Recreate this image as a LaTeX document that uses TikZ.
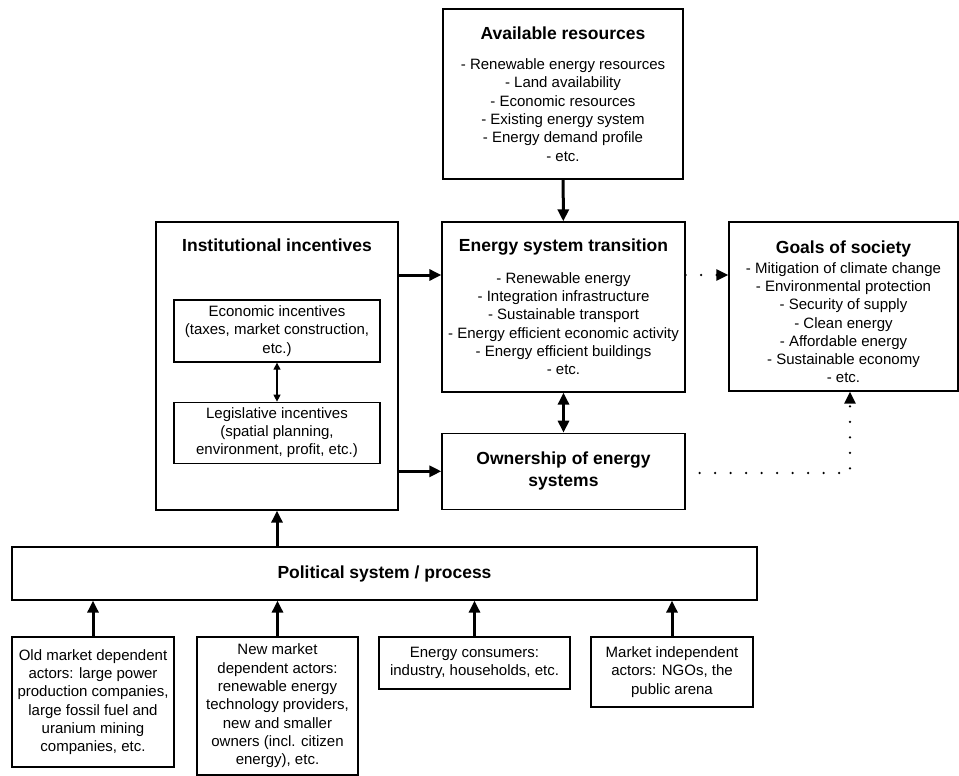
\documentclass[tikz,border=0pt]{standalone}
\usepackage{fontspec}
\setmainfont{Liberation Sans}
\usepackage{tikz}
\usetikzlibrary{shapes, arrows, arrows.meta, calc, positioning}

\newcommand{\bodyfont}{\fontsize{15}{18.3}\selectfont}
\newcommand{\headfont}{\fontsize{17.5}{22}\selectfont\bfseries}

\begin{document}
\begin{tikzpicture}[x=1pt, y=-1pt, >={Triangle[length=12pt, width=11pt]}, node distance=40pt]
	\tikzstyle{block} = [draw, line width=1.3pt, align=center, inner sep=0pt, font=\bodyfont]
	\tikzstyle{flow} = [->, line width=3pt]
	\tikzstyle{link} = [->, line width=2.6pt, line cap=round, dash pattern=on 0pt off 15.5pt]

	\useasboundingbox (0,0) rectangle (959,776);

	% upper part
	\begin{scope}
		\path
			node[block, minimum width=240pt, minimum height=170pt] (res) at (563,94)
				{{\headfont Available resources}\\[12pt]
				- Renewable energy resources\\ - Land availability\\ - Economic resources\\
				- Existing energy system\\ - Energy demand profile\\ - etc.}
			node[block, minimum width=243pt, minimum height=170pt] (trans) at (563.5,307)
				{{\headfont Energy system transition}\\[13pt]
				- Renewable energy\\ - Integration infrastructure\\ - Sustainable transport\\
				- Energy efficient economic activity\\ - Energy efficient buildings\\ - etc.}
			node[block, font=\headfont, minimum width=243pt, minimum height=76pt, below=of trans] (own)
				{Ownership of energy\\ systems}
			node[block, minimum width=229pt, minimum height=169pt] (goals) at (843.5,306.5)
				{\rule{0pt}{24pt}{\headfont Goals of society}\\[1pt]
				- Mitigation of climate change\\ - Environmental protection\\ - Security of supply\\
				- Clean energy\\ - Affordable energy\\ - Sustainable economy\\ - etc.}
			node[block, minimum width=242pt, minimum height=288pt,
				label={[anchor=center, yshift=-24pt]north:\headfont Institutional incentives}] (inst) at (277,366) {}
			node[block, minimum width=206pt, minimum height=62pt] (econ) at (277,331)
				{Economic incentives\\ (taxes, market construction,\\ etc.)}
			node[block, minimum width=206pt, minimum height=61pt, below=39pt of econ] (legis)
				{Legislative incentives\\ (spatial planning,\\ environment, profit, etc.)}
		;
	\end{scope}

	% lower part
	\begin{scope}
		\path
			node[block, minimum width=745pt, minimum height=53pt] (pol) at (384.5,573.5)
				{\headfont Political system / process}
			node[block, minimum width=162pt, minimum height=130pt] (old) at (93,702)
				{Old market dependent\\ actors: large power\\ production companies,\\
				large fossil fuel and\\ uranium mining\\ companies, etc.}
			node[block, minimum width=161pt, minimum height=138pt] (new) at (277.5,706)
				{New market\\ dependent actors:\\ renewable energy\\ technology providers,\\
				new and smaller\\ owners (incl. citizen\\ energy), etc.}
			node[block, minimum width=191pt, minimum height=52pt] (cons) at (474.5,663)
				{Energy consumers:\\ industry, households, etc.}
			node[block, minimum width=162pt, minimum height=70pt] (indep) at (672,672)
				{Market independent\\ actors: NGOs, the\\ public arena}
		;
	\end{scope}

	\coordinate (a1) at (420,275);
	\coordinate (c1) at (850,473);

	\draw[flow] (res) -- (trans);
	\draw[flow] (inst.east |- a1) -- (trans.west |- a1);
	\draw[flow] (inst.east |- own.west) -- (own.west);
	\draw[flow, <->] (trans) -- (own);
	\draw[<->, line width=1.2pt, >={Triangle[length=7pt, width=7pt]}] (econ) -- (legis);
	\draw[flow] (pol.north -| inst.south) -- (inst.south);
	\draw[flow] (old.north) -- (old.north |- pol.south);
	\draw[flow] (new.north) -- (new.north |- pol.south);
	\draw[flow] (cons.north) -- (cons.north |- pol.south);
	\draw[flow] (indep.north) -- (indep.north |- pol.south);

	\draw[link] (trans.east |- a1) -- (goals.west |- a1);
	\draw[link, shorten <=14pt] (own.east |- c1) -- (c1) -- (c1 |- goals.south);
\end{tikzpicture}
\end{document}
